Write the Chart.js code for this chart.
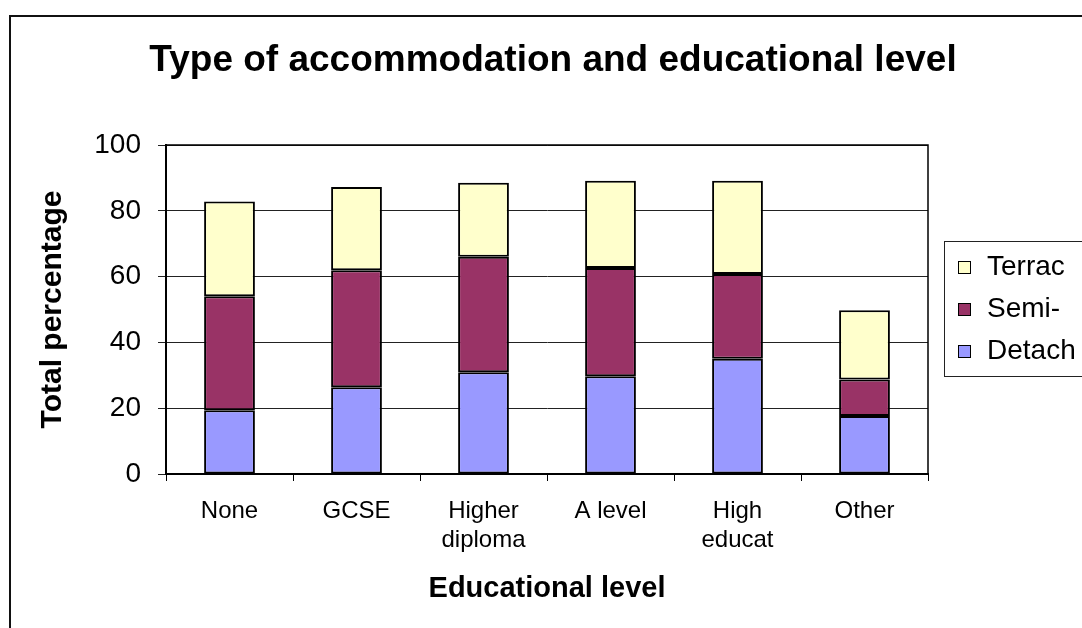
<!DOCTYPE html>
<html>
<head>
<meta charset="utf-8">
<script src="https://cdn.jsdelivr.net/npm/chart.js@4"></script>
<style>
html, body { margin: 0; padding: 0; background: #fff; }
</style>
</head>
<body>
<canvas id="accChart" width="1082" height="628"></canvas>
<script>
// values (percent of each group)
const categories = ['None', 'GCSE', ['Higher', 'diploma'], 'A level', ['High', 'educat'], 'Other'];
const detached = [19.4, 26.4, 30.9, 29.7, 35.0, 17.6];
const semi = [34.6, 35.5, 35.1, 32.9, 25.8, 11.1];
const terraced = [28.8, 25.3, 22.5, 26.5, 28.3, 21.1];
const seriesNames = ['Detach', 'Semi-', 'Terrac'];
const seriesColors = ['#9999ff', '#993366', '#ffffcc'];
const yTicks = [0, 20, 40, 60, 80, 100];
const chartTitle = 'Type of accommodation and educational level';

const FONT = '"Liberation Sans", Arial, sans-serif';

// frame, title and the old-style legend box on the right
const excelBits = {
    id: 'excelBits',
    beforeDraw(chart) {
        const ctx = chart.ctx;
        ctx.save();
        ctx.fillStyle = '#fff';
        ctx.fillRect(0, 0, chart.width, chart.height);
        ctx.restore();
    },
    afterDraw(chart) {
        const ctx = chart.ctx;
        const area = chart.chartArea;
        ctx.save();

        // outer chart border
        ctx.strokeStyle = '#111';
        ctx.lineWidth = 2;
        ctx.strokeRect(10, 16, chart.width + 10, chart.height + 10);

        // plot area frame
        ctx.lineWidth = 1.5;
        ctx.strokeStyle = '#000';
        ctx.beginPath();
        ctx.moveTo(area.left, area.top);
        ctx.lineTo(area.right, area.top);
        ctx.lineTo(area.right, area.bottom);
        ctx.stroke();

        // title
        ctx.fillStyle = '#000';
        ctx.font = 'bold 37px ' + FONT;
        ctx.textAlign = 'center';
        ctx.textBaseline = 'middle';
        ctx.fillText(chartTitle, 553, 61);

        // legend
        ctx.strokeStyle = '#222';
        ctx.lineWidth = 1;
        ctx.strokeRect(944.5, 241.5, 200, 135);
        ctx.font = '28px ' + FONT;
        ctx.textAlign = 'left';
        const rows = [2, 1, 0];
        rows.forEach((s, i) => {
            const cy = 267 + i * 42;
            ctx.fillStyle = seriesColors[s];
            ctx.fillRect(958, cy - 6, 13, 13);
            ctx.strokeStyle = '#000';
            ctx.strokeRect(958.5, cy - 5.5, 12, 12);
            ctx.fillStyle = '#000';
            ctx.fillText(seriesNames[s], 987, cy);
        });
        ctx.restore();
    }
};

const ctx = document.getElementById('accChart').getContext('2d');

new Chart(ctx, {
    type: 'bar',
    data: {
        labels: categories,
        datasets: [detached, semi, terraced].map((vals, i) => ({
            label: seriesNames[i],
            data: vals,
            backgroundColor: seriesColors[i],
            borderColor: '#000',
            borderWidth: 2,
            borderSkipped: false,
            barPercentage: 0.5,
            categoryPercentage: 0.8
        }))
    },
    options: {
        responsive: false,
        animation: false,
        layout: {
            padding: { left: 0, right: 154, top: 145, bottom: 0 }
        },
        scales: {
            x: {
                stacked: true,
                afterFit: (scale) => { scale.height = 154; },
                grid: {
                    drawOnChartArea: false,
                    drawTicks: true,
                    tickLength: 7,
                    color: '#000'
                },
                border: { color: '#000', width: 2 },
                ticks: {
                    color: '#000',
                    font: { family: FONT, size: 24, lineHeight: 1.2 },
                    padding: 16,
                    maxRotation: 0,
                    autoSkip: false
                },
                title: {
                    display: true,
                    text: 'Educational level',
                    color: '#000',
                    font: { family: FONT, size: 29, weight: 'bold' },
                    padding: { top: 0, bottom: 22 }
                }
            },
            y: {
                stacked: true,
                min: 0,
                max: 100,
                afterFit: (scale) => { scale.width = 166; },
                afterBuildTicks: (scale) => { scale.ticks = yTicks.map(v => ({ value: v })); },
                grid: {
                    color: '#222',
                    lineWidth: 1,
                    tickLength: 8
                },
                border: { color: '#000', width: 2 },
                ticks: {
                    color: '#000',
                    font: { family: FONT, size: 28 },
                    padding: 17
                },
                title: {
                    display: true,
                    text: 'Total percentage',
                    color: '#000',
                    font: { family: FONT, size: 30, weight: 'bold' },
                    padding: { top: 35, bottom: 0 }
                }
            }
        },
        plugins: {
            legend: { display: false },
            title: { display: false },
            tooltip: { enabled: false }
        }
    },
    plugins: [excelBits]
});
</script>
</body>
</html>
